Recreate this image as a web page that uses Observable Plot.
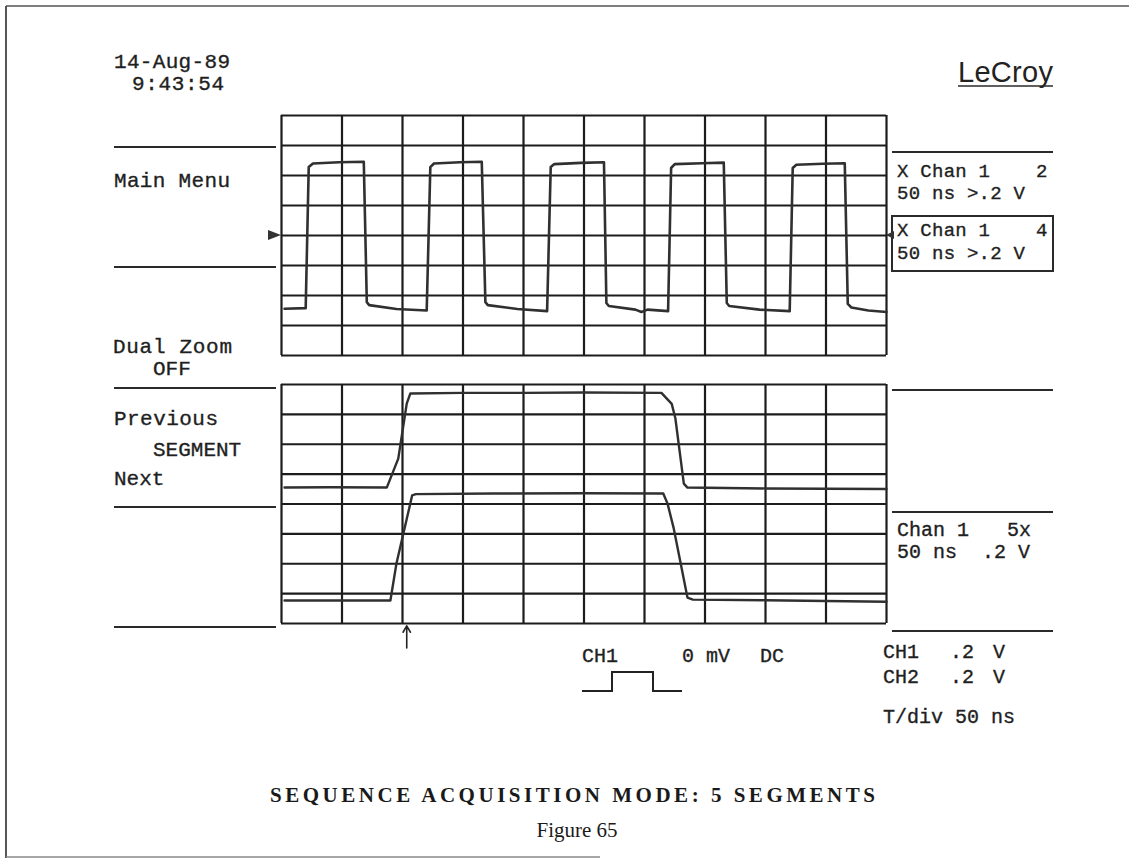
<!DOCTYPE html>
<html>
<head>
<meta charset="utf-8">
<script src="https://cdn.jsdelivr.net/npm/d3@7"></script>
<script src="https://cdn.jsdelivr.net/npm/@observablehq/plot@0.6"></script>
<style>
html,body{margin:0;padding:0;background:#fff;}
#page{position:relative;width:1129px;height:859px;overflow:hidden;background:#fff;}
.panel{position:absolute;}
#deco{position:absolute;left:0;top:0;}
.osc{font-family:"Liberation Mono","DejaVu Sans Mono",monospace;fill:#1f1f1f;stroke:#1f1f1f;stroke-width:0.35;white-space:pre;}
</style>
</head>
<body>
<div id="page">
  <svg id="deco" width="1129" height="859"></svg>
  <div id="topPanel" class="panel" style="left:279px;top:113px;width:609px;"></div>
  <div id="bottomPanel" class="panel" style="left:279px;top:382px;width:609px;"></div>
</div>
<script>
// ---- grid divisions (10 x 8 oscilloscope graticule) ----
const divX = [0,1,2,3,4,5,6,7,8,9,10];
const divY = [-4,-3,-2,-1,0,1,2,3,4];

// ---- top trace: Chan 1, 5 pulses (time in div, volts in div) ----
const topTime = [0.05,0.40,0.45,0.52,0.95,1.36,1.41,1.45,1.90,2.40,
                 2.46,2.52,2.95,3.31,3.37,3.41,3.90,4.39,
                 4.45,4.51,4.95,5.33,5.37,5.41,5.85,5.95,6.05,6.39,
                 6.44,6.50,6.95,7.31,7.36,7.40,7.90,8.40,
                 8.45,8.51,8.95,9.31,9.36,9.42,9.70,10.0];
const topVolt = [-2.44,-2.42,2.28,2.40,2.44,2.46,-2.22,-2.32,-2.45,-2.50,
                 2.28,2.40,2.44,2.46,-2.22,-2.32,-2.45,-2.52,
                 2.28,2.38,2.42,2.44,-2.25,-2.35,-2.47,-2.55,-2.47,-2.52,
                 2.25,2.38,2.41,2.43,-2.25,-2.35,-2.47,-2.52,
                 2.25,2.36,2.39,2.41,-2.28,-2.40,-2.50,-2.55];

// ---- bottom traces: expanded segment (upper = zoom, lower = Chan 1 5x) ----
const segATime = [0.05,0.80,1.74,1.93,2.07,2.13,3.00,4.00,5.00,6.28,6.45,6.51,6.65,6.71,8.00,10.0];
const segAVolt = [0.55,0.56,0.55,1.52,3.36,3.70,3.72,3.72,3.73,3.72,3.35,2.87,0.68,0.55,0.52,0.50];
const segBTime = [0.05,1.00,1.80,1.90,2.16,2.22,3.50,5.00,6.31,6.38,6.48,6.71,6.80,8.00,10.0];
const segBVolt = [-3.23,-3.23,-3.23,-1.99,0.29,0.33,0.35,0.36,0.35,0.02,-0.79,-3.13,-3.20,-3.22,-3.27];
const triggerTime = [2.07];

const toRows = (ts, vs) => ts.map((t, i) => ({t, v: vs[i]}));
const gridColor = "#1c1c1c";
const traceColor = "#303030";

function panel(marks, frameH, extraBottom) {
  return Plot.plot({
    width: 609,
    height: frameH + 4 + extraBottom,
    marginTop: 2, marginLeft: 2, marginRight: 2, marginBottom: 2 + extraBottom,
    x: {domain: [0, 10], axis: null},
    y: {domain: [-4, 4], axis: null},
    style: {background: "transparent", overflow: "visible"},
    marks: [
      Plot.ruleX(divX, {stroke: gridColor, strokeWidth: 2.2}),
      Plot.ruleY(divY, {stroke: gridColor, strokeWidth: 2.2}),
      ...marks
    ]
  });
}

document.getElementById("topPanel").append(panel([
  Plot.line(toRows(topTime, topVolt), {x: "t", y: "v", stroke: traceColor, strokeWidth: 2.6, strokeLinejoin: "round"})
], 240, 0));

document.getElementById("bottomPanel").append(panel([
  Plot.line(toRows(segATime, segAVolt), {x: "t", y: "v", stroke: traceColor, strokeWidth: 2.4, strokeLinejoin: "round"}),
  Plot.line(toRows(segBTime, segBVolt), {x: "t", y: "v", stroke: traceColor, strokeWidth: 2.4, strokeLinejoin: "round"}),
  Plot.arrow(triggerTime, {x1: d => d, x2: d => d, y1: -4.82, y2: -4.08, stroke: "#222", strokeWidth: 1.6, headLength: 9})
], 239, 28));

// ---- decoration & screen text ----
const svg = d3.select("#deco");
const line = (x1, y1, x2, y2, w = 2, c = "#2a2a2a") =>
  svg.append("line").attr("x1", x1).attr("y1", y1).attr("x2", x2).attr("y2", y2)
     .attr("stroke", c).attr("stroke-width", w);

// page frame
line(6, 6, 1129, 6, 1.6, "#555");
line(6, 6, 6, 858, 1.8, "#444");
line(6, 857, 600, 857, 1.4, "#888");

// left menu separators
[147, 267, 388, 507, 627].forEach(y => line(114, y, 276, y, 2));
// right menu separators
[152, 390, 512, 631].forEach(y => line(892, y, 1053, y, 2));
svg.append("rect").attr("x", 892).attr("y", 216).attr("width", 161).attr("height", 55)
   .attr("fill", "none").attr("stroke", "#2a2a2a").attr("stroke-width", 2);

// ground markers
svg.append("polygon").attr("points", "268,230 281,235 268,240").attr("fill", "#333");
svg.append("polygon").attr("points", "886,235 894,231 894,239").attr("fill", "#333");

// coupling icon
svg.append("path").attr("d", "M582,691 H612 V672 H653 V691 H682")
   .attr("fill", "none").attr("stroke", "#222").attr("stroke-width", 2);

// LeCroy logo
svg.append("text").attr("x", 958).attr("y", 82).attr("textLength", 95)
   .attr("font-family", "Liberation Sans, Arial, sans-serif").attr("font-size", 29)
   .attr("fill", "#222").text("LeCroy");
line(958, 86, 1053, 86, 1.6);

const txt = (s, x, y, size = 21, len) => {
  const t = svg.append("text").attr("class", "osc").attr("x", x).attr("y", y)
     .attr("font-size", size).attr("xml:space", "preserve").text(s);
  if (len) t.attr("textLength", len).attr("lengthAdjust", "spacing");
  return t;
};

txt("14-Aug-89", 114, 68, 21, 116);
txt("9:43:54", 132, 90, 21, 92);
txt("Main Menu", 114, 187, 21, 116);
txt("Dual Zoom", 113, 353, 21, 119);
txt("OFF", 153, 375, 21);
txt("Previous", 114, 425, 21, 104);
txt("SEGMENT", 153, 456, 21);
txt("Next", 114, 485, 21);

txt("X Chan 1", 897, 177, 19, 93); txt("2", 1036, 177, 19);
txt("50 ns >.2 V", 897, 199, 19, 128);
txt("X Chan 1", 897, 236, 19, 93); txt("4", 1036, 236, 19);
txt("50 ns >.2 V", 897, 259, 19, 128);

txt("Chan 1", 897, 536, 20); txt("5x", 1007, 536, 20);
txt("50 ns", 897, 558, 20); txt(".2 V", 982, 558, 20);

txt("CH1", 883, 658, 20); txt(".2", 950, 658, 20); txt("V", 993, 658, 20);
txt("CH2", 883, 683, 20); txt(".2", 950, 683, 20); txt("V", 993, 683, 20);
txt("T/div 50 ns", 883, 723, 20, 132);

txt("CH1", 582, 662, 20); txt("0 mV", 682, 662, 20); txt("DC", 760, 662, 20);

// caption
svg.append("text").attr("x", 270).attr("y", 802).attr("textLength", 605).attr("lengthAdjust", "spacing")
   .attr("font-family", "Liberation Serif, Times New Roman, serif").attr("font-size", 21)
   .attr("font-weight", "bold").attr("fill", "#1a1a1a").text("SEQUENCE ACQUISITION MODE: 5 SEGMENTS");
svg.append("text").attr("x", 577).attr("y", 837).attr("text-anchor", "middle")
   .attr("font-family", "Liberation Serif, Times New Roman, serif").attr("font-size", 21)
   .attr("fill", "#1a1a1a").text("Figure 65");
</script>
</body>
</html>
